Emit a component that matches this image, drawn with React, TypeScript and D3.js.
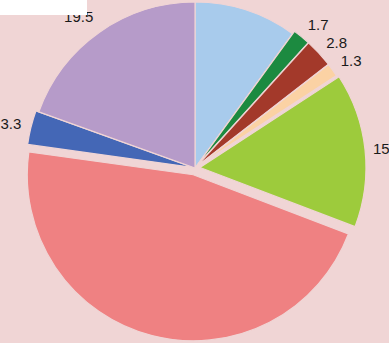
import React from "react";
import * as d3 from "d3";

const categories = ["A", "B", "C", "D", "E", "F", "G", "H"];
const values = [10, 1.7, 2.8, 1.3, 15, 46.4, 3.3, 19.5];
const labels = ["", "1.7", "2.8", "1.3", "15", "", "3.3", "19.5"];
const colors = ["#a8cbec", "#1c8a40", "#a3392a", "#fbd2a4", "#9dcb3c", "#ef8182", "#4467b6", "#b69bc9"];
const explode = [0, 3, 3, 3, 5, 7, 3, 0];

const W = 389;
const H = 343;
const BG = "#f0d5d5";

function textWidth(s: string) {
  let w = 0;
  for (const c of s) w += c === "." ? 4.2 : 8.3;
  return w;
}

export default function App() {
  const cx = 195;
  const cy = 168;
  const r = 166;
  const labelR = 179;
  const h = 12;

  const pie = d3.pie<number>().value((d) => d).sort(null)(values);
  const arc = d3.arc<d3.PieArcDatum<number>>().innerRadius(0).outerRadius(r);

  return (
    <svg width={W} height={H} style={{ position: "absolute", left: 0, top: 0, display: "block" }}>
      <rect x={0} y={0} width={W} height={H} fill={BG} />
      <g transform={`translate(${cx},${cy})`}>
        {pie.map((p, i) => {
          const mid = (p.startAngle + p.endAngle) / 2;
          const dx = Math.sin(mid) * explode[i];
          const dy = -Math.cos(mid) * explode[i];
          return (
            <path
              key={categories[i]}
              d={arc(p) || ""}
              transform={`translate(${dx},${dy})`}
              fill={colors[i]}
              stroke={BG}
              strokeWidth={1.2}
            />
          );
        })}
        {pie.map((p, i) => {
          if (!labels[i]) return null;
          const mid = (p.startAngle + p.endAngle) / 2;
          const s = Math.sin(mid);
          const c = Math.cos(mid);
          const w = textWidth(labels[i]);
          const x = s * labelR + Math.sign(s) * (w / 2) * Math.min(1, Math.abs(s) * 1.6);
          const y = -c * labelR - c * (h / 2);
          return (
            <text
              key={"l" + categories[i]}
              x={x}
              y={y}
              textAnchor="middle"
              dominantBaseline="central"
              fontFamily="'Liberation Sans', Arial, sans-serif"
              fontSize={15}
              fill="#1a1a1a"
            >
              {labels[i]}
            </text>
          );
        })}
      </g>
      <rect x={0} y={0} width={87} height={15} fill="#ffffff" />
    </svg>
  );
}
